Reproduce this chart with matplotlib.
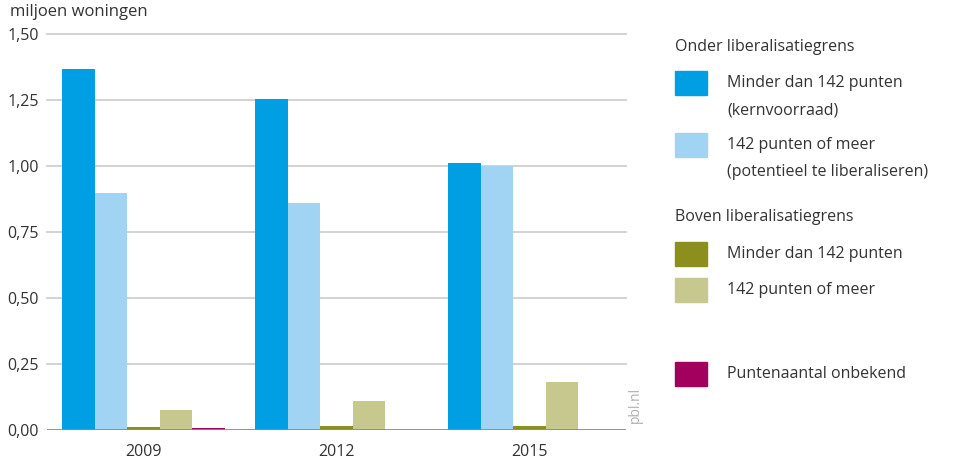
import matplotlib.pyplot as plt
from matplotlib.patches import Rectangle
import numpy as np

plt.rcParams['font.family'] = ['Open Sans', 'DejaVu Sans']

jaren = ['2009', '2012', '2015']
onder_minder = [1.367, 1.254, 1.011]
onder_meer = [0.898, 0.860, 1.000]
boven_minder = [0.012, 0.017, 0.017]
boven_meer = [0.076, 0.110, 0.182]
onbekend = [0.008, 0.0, 0.0]

reeksen = [onder_minder, onder_meer, boven_minder, boven_meer, onbekend]
kleuren = ['#009fe3', '#a0d4f2', '#8c8f1e', '#c6c88e', '#a1005e']
labels = ['Minder dan 142 punten\n(kernvoorraad)',
          '142 punten of meer\n(potentieel te liberaliseren)',
          'Minder dan 142 punten',
          '142 punten of meer',
          'Puntenaantal onbekend']
yticks = [0, 0.25, 0.5, 0.75, 1.0, 1.25, 1.5]
ytick_labels = ['0,00', '0,25', '0,50', '0,75', '1,00', '1,25', '1,50']

W, H = 958, 470
tekst = '#333333'
fs = 11.5
fig = plt.figure(figsize=(W / 100, H / 100), dpi=100)
ax = fig.add_axes([47 / W, 40 / H, 579 / W, 396 / H])

x = np.arange(len(jaren))
bw = 0.168
for i, (vals, kl) in enumerate(zip(reeksen, kleuren)):
    ax.bar(x - 2 * bw + i * bw, vals, width=bw, color=kl, zorder=3)

ax.set_xlim(-0.5, 2.5)
ax.set_ylim(0, 1.5)
ax.set_yticks(yticks)
ax.set_yticklabels(ytick_labels)
ax.set_xticks(x)
ax.set_xticklabels(jaren)
ax.tick_params(length=0, labelsize=fs, colors=tekst)
ax.tick_params(axis='x', pad=10)
ax.tick_params(axis='y', pad=6)
for yv in yticks[1:]:
    ax.axhline(yv, color='#cfcfcf', lw=1.3, zorder=1, clip_on=False)
ax.axhline(0, color='#8a8a8a', lw=2, zorder=4)
for s in ax.spines.values():
    s.set_visible(False)

fig.text(10 / W, 1 - 12 / H, 'miljoen woningen', fontsize=12, color=tekst, va='center')
fig.text(635 / W, 1 - 405 / H, 'pbl.nl', rotation=90, fontsize=10, color='#b0b0b0',
         ha='center', va='center')

# legenda
fig.text(675 / W, 1 - 47 / H, 'Onder liberalisatiegrens', fontsize=fs, color=tekst, va='center')
fig.text(675 / W, 1 - 217 / H, 'Boven liberalisatiegrens', fontsize=fs, color=tekst, va='center')
patch_y = [83, 145, 254, 290, 374]
for py, kl, lab in zip(patch_y, kleuren, labels):
    fig.add_artist(Rectangle((675 / W, 1 - (py + 12) / H), 32 / W, 24 / H,
                             transform=fig.transFigure, color=kl))
    fig.text(727 / W, 1 - (py - 8) / H, lab, fontsize=fs, color=tekst, va='top',
             linespacing=1.95)

fig.savefig('out.png', dpi=100)
